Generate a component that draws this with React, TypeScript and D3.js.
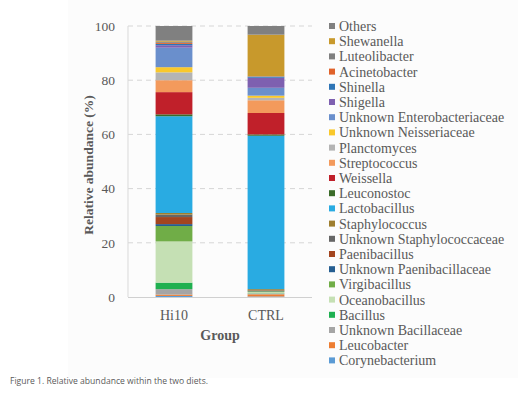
import React from 'react';
import * as d3 from 'd3';

// bottom-to-top stacking order
const series = [
  'Corynebacterium', 'Leucobacter', 'Unknown Bacillaceae', 'Bacillus', 'Oceanobacillus',
  'Virgibacillus', 'Unknown Paenibacillaceae', 'Paenibacillus', 'Unknown Staphylococcaceae',
  'Staphylococcus', 'Lactobacillus', 'Leuconostoc', 'Weissella', 'Streptococcus',
  'Planctomyces', 'Unknown Neisseriaceae', 'Unknown Enterobacteriaceae', 'Shigella',
  'Shinella', 'Acinetobacter', 'Luteolibacter', 'Shewanella', 'Others',
];
const colors = [
  '#5b9bd5', '#ed7d31', '#a5a5a5', '#1fb050', '#c5e0b4',
  '#70ad47', '#255e91', '#a3451f', '#666666',
  '#9e7e2e', '#29abe2', '#3a6b28', '#c0202a', '#f39a5c',
  '#b4b4b4', '#f9c82b', '#6a8fcc', '#7e60b0',
  '#2e75b6', '#e0622a', '#7f7f7f', '#c8992c', '#808080',
];
const categories = ['Hi10', 'CTRL'];
const hi10 = [0.4, 0.5, 2.0, 2.4, 15.2, 5.7, 0.7, 2.6, 0.9, 0.6, 35.7, 0.7, 8.2, 4.4, 2.9, 1.9, 7.2, 0.9, 0.5, 0.4, 0.4, 0.4, 5.4];
const ctrl = [0.2, 0.8, 0.3, 0.1, 0.4, 0.3, 0.1, 0.2, 0.1, 0.4, 56.6, 0.5, 7.9, 4.7, 0.9, 0.8, 2.9, 3.7, 0.3, 0.1, 0.2, 15.3, 3.2];
const yTicks = [0, 20, 40, 60, 80, 100];

const serif = '"Liberation Serif", "Times New Roman", serif';
const grey = '#595959';

const App: React.FC = () => {
  const rows = categories.map((c, i) => {
    const vals = i === 0 ? hi10 : ctrl;
    const r: Record<string, any> = { group: c };
    series.forEach((s, j) => { r[s] = vals[j]; });
    return r;
  });
  const stacked = d3.stack<any>().keys(series)(rows);

  const x = d3.scaleBand().domain(categories).range([128, 312]).paddingInner(0.6).paddingOuter(0.3);
  const y = d3.scaleLinear().domain([0, 100]).range([297, 26]);
  const color = d3.scaleOrdinal<string, string>().domain(series).range(colors);

  const legendItems = series.slice().reverse();

  return (
    <svg width={518} height={403} style={{ position: 'absolute', left: 0, top: 0 }}>
      <rect x={68} y={0} width={450} height={378} fill="#fcfcfc" />
      {yTicks.filter(t => t > 0).map(t => (
        <line key={t} x1={128} x2={312} y1={y(t)} y2={y(t)} stroke="#d6d6d6" strokeDasharray="5,4" />
      ))}
      <line x1={128} x2={128} y1={y(100)} y2={y(0)} stroke="#d9d9d9" />
      {stacked.map(layer => (
        <g key={layer.key} fill={color(layer.key)}>
          {layer.map((d, i) => (
            <rect key={i} x={x(categories[i])} width={x.bandwidth()}
              y={y(d[1])} height={Math.max(0, y(d[0]) - y(d[1]))} />
          ))}
        </g>
      ))}
      <line x1={128} x2={312} y1={y(0) + 0.5} y2={y(0) + 0.5} stroke="#d0d0d0" />
      {yTicks.map(t => (
        <text key={t} x={115} y={y(t)} dy="0.35em" textAnchor="end" fontFamily={serif} fontSize={13.5} fill={grey}>{t}</text>
      ))}
      <text transform={`translate(93,165) rotate(-90)`} textAnchor="middle" fontFamily={serif} fontSize={13.5} fontWeight="bold" fill={grey}>
        Relative abundance (%)
      </text>
      {categories.map(c => (
        <text key={c} x={(x(c) as number) + x.bandwidth() / 2} y={320} textAnchor="middle" fontFamily={serif} fontSize={14} fill={grey}>{c}</text>
      ))}
      <text x={220} y={340} textAnchor="middle" fontFamily={serif} fontSize={14} fontWeight="bold" fill={grey}>Group</text>
      {legendItems.map((s, i) => (
        <g key={s} transform={`translate(329,${26 + i * 15.2})`}>
          <rect x={0} y={-3} width={6} height={6} fill={color(s)} />
          <text x={10} y={0} dy="0.35em" fontFamily={serif} fontSize={14} fill={grey}>{s}</text>
        </g>
      ))}
      <text x={10} y={384} fontFamily='"Open Sans", sans-serif' fontSize={9.5} fill="#5a5a5a" textLength={198} lengthAdjust="spacingAndGlyphs">
        Figure 1. Relative abundance within the two diets.
      </text>
    </svg>
  );
};

export default App;
